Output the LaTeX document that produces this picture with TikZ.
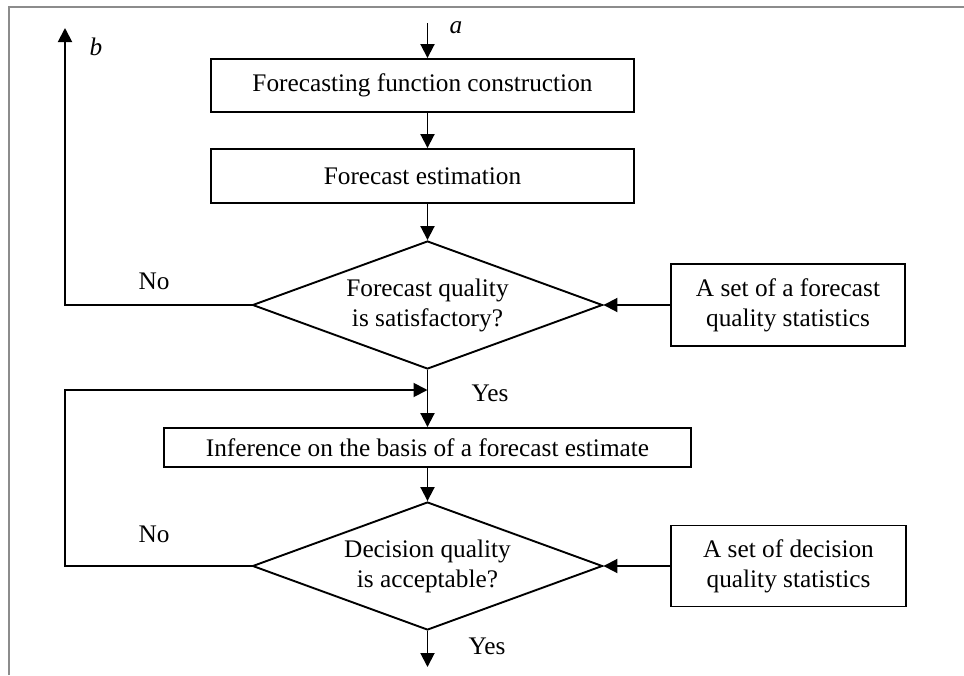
\documentclass[tikz,border=0pt]{standalone}
\usepackage{fontspec}
\setmainfont{Liberation Serif}
\usetikzlibrary{arrows.meta,shapes.geometric,calc}
\begin{document}
\begin{tikzpicture}[x=1pt,y=-1pt,
  font=\fontsize{25.3}{30}\selectfont,
  line width=1.9pt,
  boxnode/.style={draw,rectangle,inner sep=0pt,align=center},
  decnode/.style={draw,diamond,shape aspect=2.74,inner sep=0pt,align=center,minimum width=350pt,minimum height=128pt},
  arr/.style={-{Triangle[length=14pt,width=14pt]}},
  lbl/.style={inner sep=0pt},
  framecol/.style={draw=gray!90,line width=2pt}]
\useasboundingbox (0,0) rectangle (964,675);
% frame (only top and left edges visible)
\draw[framecol] (9,675) -- (9,7) -- (964,7);
% nodes
\node[boxnode,minimum width=423pt,minimum height=53pt] (box1) at (422.5,85.5) {Forecasting function construction};
\node[boxnode,minimum width=423pt,minimum height=54pt] (box2) at (422.5,176) {Forecast estimation};
\node[decnode] (d1) at (427.5,305) {Forecast quality\\is satisfactory?};
\node[boxnode,minimum width=234pt,minimum height=82pt] (rb1) at (788,305) {A set of a forecast\\quality statistics};
\node[boxnode,minimum width=527pt,minimum height=39pt] (box3) at (427.5,447.5) {Inference on the basis of a forecast estimate};
\node[decnode] (d2) at (427.5,566) {Decision quality\\is acceptable?};
\node[boxnode,minimum width=235pt,minimum height=81pt] (rb2) at (788.5,566) {A set of decision\\quality statistics};
% coordinates
\coordinate (spine) at (427.5,0);
\coordinate (aTop) at (427.5,23);
\coordinate (bTop) at (65,28);
\coordinate (bCorner) at (65,305);
\coordinate (loopCorner) at (65,566);
\coordinate (loopTop) at (65,390);
\coordinate (loopEnd) at (427.5,390);
\coordinate (yesEnd) at (427.5,667);
% labels
\node[lbl,font=\fontsize{25.3}{30}\selectfont\itshape] (la) at (456,28) {a};
\node[lbl,font=\fontsize{25.3}{30}\selectfont\itshape] (lb) at (96,47) {b};
\node[lbl] (no1) at (154,281) {No};
\node[lbl] (yes1) at (490,393) {Yes};
\node[lbl] (no2) at (154,534) {No};
\node[lbl] (yes2) at (487,646) {Yes};
% connectors
\draw[arr] (aTop) -- (aTop |- box1.north);
\draw[arr] (spine |- box1.south) -- (spine |- box2.north);
\draw[arr] (spine |- box2.south) -- (d1.north);
\draw[arr] (rb1.west) -- (d1.east);
\draw[arr] (d1.west) -- (bCorner) -- (bTop);
\draw[arr] (d1.south) -- (spine |- box3.north);
\draw[arr] (d2.west) -- (loopCorner) -- (loopTop) -- (loopEnd);
\draw[arr] (spine |- box3.south) -- (d2.north);
\draw[arr] (rb2.west) -- (d2.east);
\draw[arr] (d2.south) -- (yesEnd);
\end{tikzpicture}
\end{document}
